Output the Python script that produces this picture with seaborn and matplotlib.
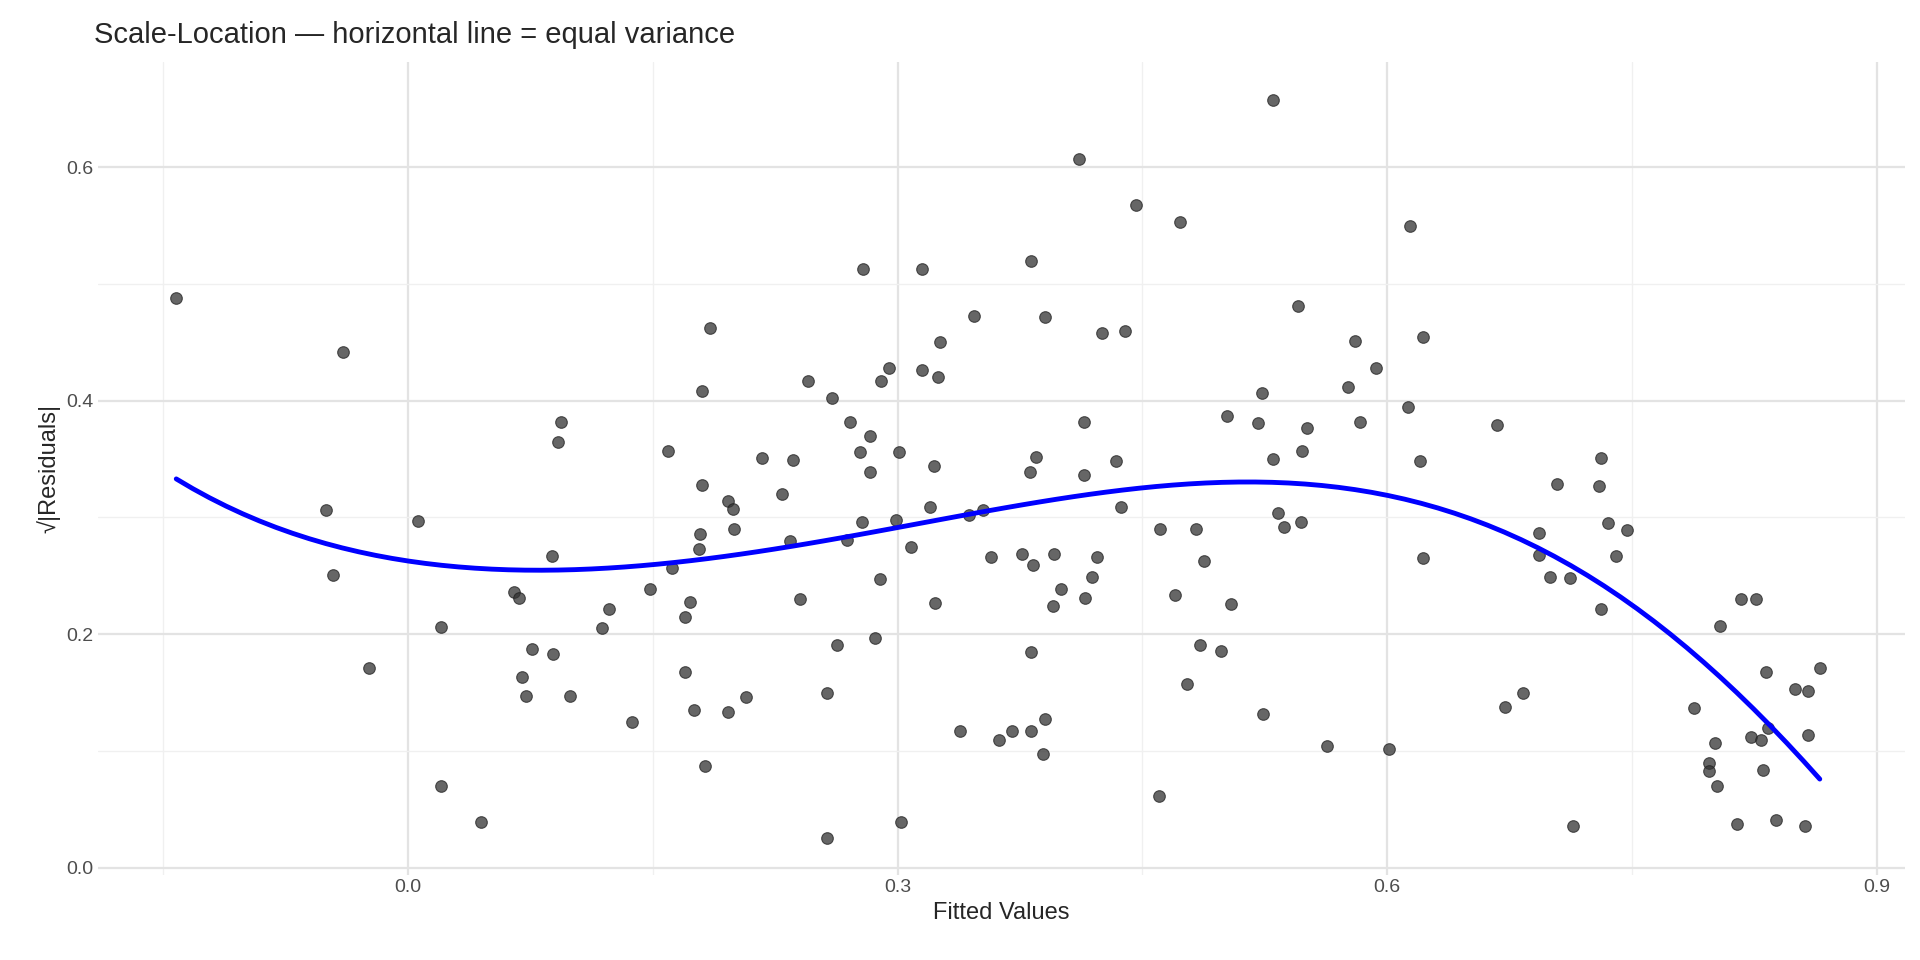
"""
Scale-Location 图：拟合值 vs sqrt(|残差|)
"""
import numpy as np
import pandas as pd
import matplotlib.pyplot as plt
import seaborn as sns
from matplotlib.ticker import MultipleLocator

# ==================== 数据 ====================
fitted = [-0.142, -0.050, -0.046, -0.040, -0.024, 0.006, 0.020, 0.020, 0.045,
          0.065, 0.068, 0.070, 0.072, 0.076, 0.088, 0.089, 0.092, 0.094, 0.099,
          0.119, 0.123, 0.137, 0.148, 0.159, 0.162, 0.170, 0.173, 0.170, 0.175,
          0.178, 0.179, 0.180, 0.180, 0.182, 0.185, 0.196, 0.199, 0.200, 0.196,
          0.207, 0.217, 0.229, 0.234, 0.236, 0.240, 0.245, 0.257, 0.257, 0.260,
          0.263, 0.269, 0.271, 0.277, 0.278, 0.279, 0.283, 0.283, 0.286, 0.289,
          0.290, 0.295, 0.299, 0.301, 0.302, 0.308, 0.315, 0.315, 0.320, 0.322,
          0.325, 0.323, 0.326, 0.338, 0.344, 0.347, 0.352, 0.357, 0.362, 0.370,
          0.376, 0.381, 0.383, 0.382, 0.382, 0.382, 0.385, 0.389, 0.390, 0.390,
          0.395, 0.396, 0.400, 0.411, 0.414, 0.414, 0.415, 0.419, 0.422, 0.425,
          0.434, 0.437, 0.439, 0.446, 0.460, 0.461, 0.470, 0.473, 0.477, 0.483,
          0.485, 0.488, 0.498, 0.502, 0.504, 0.521, 0.523, 0.524, 0.530, 0.530,
          0.533, 0.537, 0.545, 0.547, 0.548, 0.551, 0.563, 0.576, 0.580, 0.583,
          0.593, 0.601, 0.613, 0.614, 0.620, 0.622, 0.622, 0.667, 0.672, 0.683,
          0.693, 0.693, 0.700, 0.704, 0.712, 0.714, 0.730, 0.731, 0.731, 0.735,
          0.740, 0.747, 0.788, 0.797, 0.797, 0.801, 0.802, 0.804, 0.814, 0.817,
          0.823, 0.826, 0.829, 0.830, 0.832, 0.833, 0.838, 0.850, 0.858, 0.858,
          0.856, 0.865]
sqrt_resid = [0.488, 0.306, 0.251, 0.442, 0.171, 0.297, 0.206, 0.070, 0.039,
              0.236, 0.231, 0.163, 0.147, 0.187, 0.267, 0.183, 0.365, 0.382, 0.147,
              0.205, 0.222, 0.125, 0.239, 0.357, 0.257, 0.215, 0.228, 0.168, 0.135,
              0.273, 0.286, 0.328, 0.408, 0.087, 0.462, 0.314, 0.307, 0.290, 0.133,
              0.146, 0.351, 0.320, 0.280, 0.349, 0.230, 0.417, 0.150, 0.025, 0.402,
              0.191, 0.281, 0.382, 0.356, 0.296, 0.513, 0.370, 0.339, 0.197, 0.247,
              0.417, 0.428, 0.298, 0.356, 0.039, 0.275, 0.513, 0.426, 0.309, 0.344,
              0.420, 0.227, 0.450, 0.117, 0.302, 0.473, 0.306, 0.266, 0.109, 0.117,
              0.269, 0.339, 0.259, 0.185, 0.117, 0.520, 0.352, 0.097, 0.127, 0.472,
              0.224, 0.269, 0.239, 0.607, 0.336, 0.382, 0.231, 0.249, 0.266, 0.458,
              0.348, 0.309, 0.460, 0.568, 0.061, 0.290, 0.234, 0.553, 0.157, 0.290,
              0.191, 0.263, 0.186, 0.387, 0.226, 0.381, 0.407, 0.132, 0.658, 0.350,
              0.304, 0.292, 0.481, 0.296, 0.357, 0.377, 0.104, 0.412, 0.451, 0.382,
              0.428, 0.102, 0.395, 0.550, 0.348, 0.455, 0.265, 0.379, 0.138, 0.150,
              0.287, 0.268, 0.249, 0.329, 0.248, 0.036, 0.327, 0.351, 0.222, 0.295,
              0.267, 0.289, 0.137, 0.090, 0.083, 0.107, 0.070, 0.207, 0.037, 0.230,
              0.112, 0.230, 0.109, 0.084, 0.168, 0.120, 0.041, 0.153, 0.151, 0.114,
              0.036, 0.171]

# 平滑曲线
smooth_x = [-0.142, -0.10, -0.05, 0.0, 0.05, 0.10, 0.15, 0.20, 0.25, 0.30, 0.35,
            0.40, 0.45, 0.50, 0.55, 0.575, 0.60, 0.65, 0.70, 0.75, 0.80, 0.865]
smooth_y = [0.329, 0.307, 0.283, 0.262, 0.250, 0.249, 0.256, 0.272, 0.288, 0.300,
            0.304, 0.309, 0.317, 0.322, 0.330, 0.332, 0.325, 0.302, 0.268, 0.222,
            0.165, 0.078]

df = pd.DataFrame({'fitted': fitted, 'sqrt_resid': sqrt_resid})
smooth_df = pd.DataFrame({'x': smooth_x, 'y': smooth_y})

# ==================== 绘图 ====================
sns.set_theme(style='white')
plt.rcParams['font.family'] = ['Liberation Sans', 'DejaVu Sans']

fig, ax = plt.subplots(figsize=(19.2, 9.6), dpi=100)
sns.scatterplot(data=df, x='fitted', y='sqrt_resid', ax=ax, color='#333333',
                alpha=0.75, s=70, edgecolor='#222222', linewidth=0.8, zorder=3)
# 平滑曲线：对读取点做多项式拟合
sns.regplot(data=smooth_df, x='x', y='y', ax=ax, order=6, ci=None,
            scatter=False, truncate=True,
            line_kws={'color': '#0000FF', 'linewidth': 3.5, 'zorder': 4})

ax.set_xlim(-0.19, 0.917)
ax.set_ylim(-0.006, 0.69)
ax.xaxis.set_major_locator(MultipleLocator(0.3))
ax.xaxis.set_minor_locator(MultipleLocator(0.15))
ax.yaxis.set_major_locator(MultipleLocator(0.2))
ax.yaxis.set_minor_locator(MultipleLocator(0.1))
ax.grid(which='major', color='#e3e3e3', linewidth=1.6)
ax.grid(which='minor', color='#f0f0f0', linewidth=1.0)
ax.set_axisbelow(True)
ax.tick_params(which='both', length=0, labelsize=14, colors='#4d4d4d')
for s in ax.spines.values():
    s.set_visible(False)

ax.set_xlabel('Fitted Values', fontsize=17)
ax.set_ylabel('√|Residuals|', fontsize=17)
ax.set_title('Scale-Location — horizontal line = equal variance', fontsize=21,
             loc='left', x=-0.002, pad=14)

plt.subplots_adjust(left=0.051, right=0.992, top=0.935, bottom=0.089)
plt.savefig('out.png', dpi=100)
plt.close()
